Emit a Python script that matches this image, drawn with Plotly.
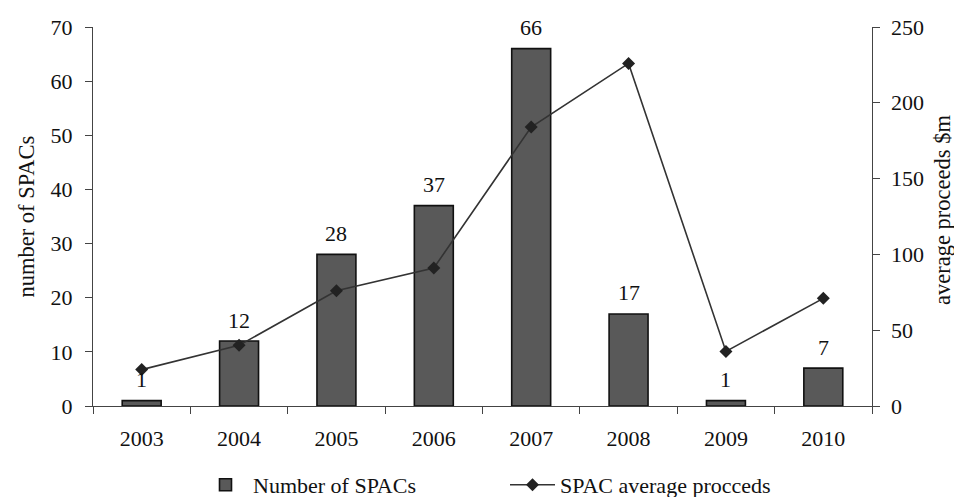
import plotly.graph_objects as go

years = ["2003", "2004", "2005", "2006", "2007", "2008", "2009", "2010"]
num_spacs = [1, 12, 28, 37, 66, 17, 1, 7]
avg_proceeds = [24, 40, 76, 91, 184, 226, 36, 71]
right_ticks = [0, 50, 100, 150, 200, 250]

FONT = "Liberation Serif"
L, R, T, B = 93, 82, 27, 91
W, H = 954, 497
PW = W - L - R
PH = H - T - B

fig = go.Figure()
fig.add_trace(go.Bar(
    x=years, y=num_spacs, name="Number of SPACs",
    marker=dict(color="#595959", line=dict(color="#111111", width=1.6)),
))
fig.add_trace(go.Scatter(
    x=years, y=avg_proceeds, name="SPAC average procceds", yaxis="y2",
    mode="lines+markers",
    line=dict(color="#333333", width=1.6),
    marker=dict(symbol="diamond", size=10, color="#222222"),
))

axis_common = dict(showline=True, linecolor="#444", linewidth=1.2,
                   ticks="outside", ticklen=7, tickcolor="#444",
                   showgrid=False, zeroline=False, automargin=False,
                   tickfont=dict(family=FONT, size=22, color="#111"))

annotations = [
    dict(text="number of SPACs", xref="paper", yref="paper",
         x=(26 - L) / PW, y=0.5, textangle=-90, showarrow=False,
         font=dict(family=FONT, size=22.5, color="#111"),
         xanchor="center", yanchor="middle"),
    dict(text="average proceeds $m", xref="paper", yref="paper",
         x=(942 - L) / PW, y=(H - B - 210) / PH, textangle=-90, showarrow=False,
         font=dict(family=FONT, size=22.5, color="#111"),
         xanchor="center", yanchor="middle"),
]
for i, v in enumerate(num_spacs):
    annotations.append(dict(text=str(v), x=i, y=v, xref="x", yref="y",
                            showarrow=False, yanchor="middle", yshift=21,
                            font=dict(family=FONT, size=22, color="#111")))
for t in right_ticks:
    annotations.append(dict(text=str(t), x=1, y=t, xref="paper", yref="y2",
                            showarrow=False, xanchor="left", yanchor="middle",
                            xshift=17, font=dict(family=FONT, size=22, color="#111")))

fig.update_layout(
    width=W, height=H,
    margin=dict(l=L, r=R, t=T, b=B, autoexpand=False),
    paper_bgcolor="white", plot_bgcolor="white",
    font=dict(family=FONT, size=22, color="#111"),
    bargap=0.6,
    showlegend=True,
    legend=dict(orientation="h", x=(198 - L) / PW, xanchor="left", y=-0.153, yanchor="top",
                font=dict(family=FONT, size=22), itemwidth=45, entrywidth=247,
                bgcolor="rgba(0,0,0,0)"),
    xaxis=dict(type="category", categoryorder="array", categoryarray=years,
               range=[-0.5, len(years) - 0.5], tickson="boundaries",
               ticklabelstandoff=12, **axis_common),
    yaxis=dict(range=[0, 70], dtick=10, ticklabelstandoff=8, **axis_common),
    yaxis2=dict(range=[0, 250], tickvals=right_ticks, overlaying="y", side="right",
                showticklabels=False, **axis_common),
    annotations=annotations,
)

fig.write_html("out.html", config={"displayModeBar": False},
               post_script="document.body.style.margin='0';document.body.style.padding='0';")
